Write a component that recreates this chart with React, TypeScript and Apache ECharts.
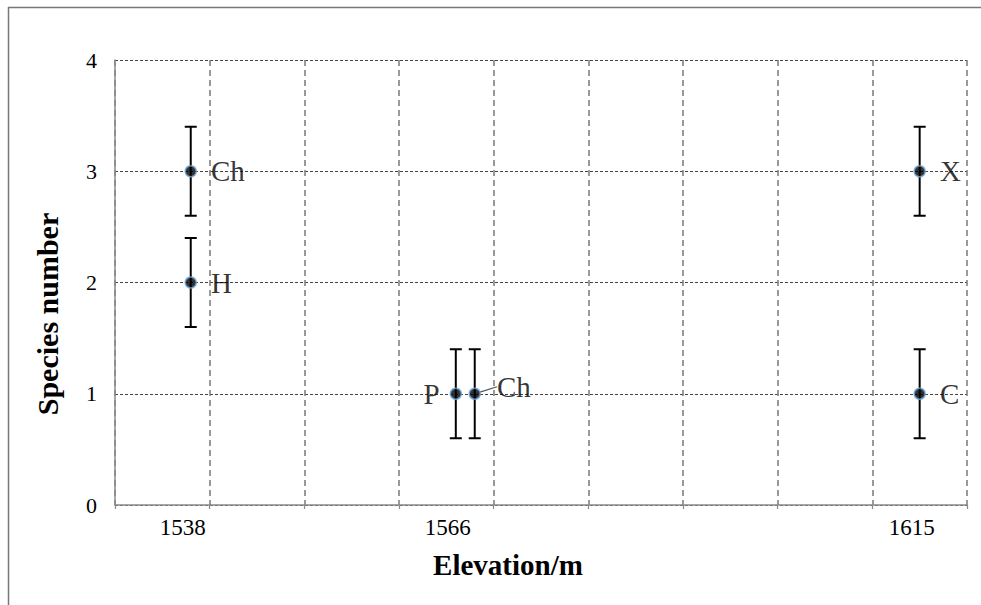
import React, { useEffect, useRef } from "react";
import * as echarts from "echarts";

const elevations = [1538, 1538, 1566, 1568, 1615, 1615];
const speciesCounts = [3, 2, 1, 1, 3, 1];
const errorValues = [0.4, 0.4, 0.4, 0.4, 0.4, 0.4];
const pointLabels = ["Ch", "H", "P", "Ch", "X", "C"];
const labelSides = ["right", "right", "left", "right", "right", "right"];
const xTickLabels = [1538, 1566, 1615];
const yTicks = [0, 1, 2, 3, 4];
const xTitle = "Elevation/m";
const yTitle = "Species number";

const SERIF = "'Liberation Serif', 'Times New Roman', serif";

export default function App() {
  const ref = useRef<HTMLDivElement>(null);
  useEffect(() => {
    if (!ref.current) return;
    const chart = echarts.init(ref.current, undefined, { renderer: "svg" });

    const scatterData = elevations.map((x, i) => ({
      value: [x, speciesCounts[i]],
      label: {
        show: true,
        formatter: pointLabels[i],
        position: labelSides[i],
        distance: labelSides[i] === "left" ? 10 : 14,
      },
      labelLine: { show: i === 3 },
    }));
    const errData = elevations.map((x, i) => [x, speciesCounts[i], errorValues[i]]);

    const option: any = {
      animation: false,
      backgroundColor: "#ffffff",
      grid: { left: 115, top: 60, right: 14, bottom: 100, containLabel: false },
      xAxis: {
        type: "value",
        min: 1530,
        max: 1620,
        interval: 10,
        axisLine: { show: true, lineStyle: { color: "#8a8a8a", width: 1.5 } },
        axisTick: { show: true, length: 4, lineStyle: { color: "#8a8a8a", width: 1.2 } },
        axisLabel: {
          customValues: xTickLabels,
          formatter: (v: number) => String(v),
          fontFamily: SERIF,
          fontSize: 23,
          color: "#000",
          margin: 11,
          padding: [0, 16, 0, 0],
        },
        splitLine: {
          show: true,
          lineStyle: { type: [6, 4], color: "#7a7a7a", width: 1.5 },
        },
      },
      yAxis: {
        type: "value",
        min: 0,
        max: 4,
        interval: 1,
        axisLine: { show: true, lineStyle: { color: "#8a8a8a", width: 1.5 } },
        axisTick: { show: false },
        axisLabel: {
          customValues: yTicks,
          formatter: (v: number) => String(v),
          fontFamily: SERIF,
          fontSize: 22,
          color: "#000",
          margin: 18,
        },
        splitLine: {
          show: true,
          lineStyle: { type: [3, 2], color: "#444", width: 1.2 },
        },
      },
      series: [
        {
          type: "custom",
          data: errData,
          z: 2,
          renderItem: (params: any, api: any) => {
            const x = api.value(0);
            const y = api.value(1);
            const e = api.value(2);
            const top = api.coord([x, y + e]);
            const bot = api.coord([x, y - e]);
            const half = 6;
            const st = { stroke: "#000", lineWidth: 2 };
            return {
              type: "group",
              children: [
                { type: "line", shape: { x1: top[0], y1: top[1], x2: bot[0], y2: bot[1] }, style: st },
                { type: "line", shape: { x1: top[0] - half, y1: top[1], x2: top[0] + half, y2: top[1] }, style: st },
                { type: "line", shape: { x1: bot[0] - half, y1: bot[1], x2: bot[0] + half, y2: bot[1] }, style: st },
              ],
            };
          },
        },
        {
          type: "scatter",
          z: 3,
          symbol: "circle",
          symbolSize: 11,
          itemStyle: { color: "#000", borderColor: "#6fa8dc", borderWidth: 1.5 },
          label: {
            fontFamily: SERIF,
            fontSize: 29,
            color: "#000",
          },
          labelLine: { lineStyle: { color: "#555", width: 1.2 } },
          labelLayout: (params: any) =>
            params.dataIndex === 3 ? { dx: 2, dy: -7 } : {},
          data: scatterData,
        },
      ],
      graphic: [
        {
          type: "line",
          shape: { x1: 8, y1: 7.5, x2: 981, y2: 7.5 },
          style: { stroke: "#777", lineWidth: 1.5 },
        },
        {
          type: "line",
          shape: { x1: 8.5, y1: 7, x2: 8.5, y2: 605 },
          style: { stroke: "#777", lineWidth: 1.5 },
        },
        {
          type: "text",
          x: 508,
          y: 565,
          style: {
            text: xTitle,
            fontFamily: SERIF,
            fontWeight: "bold",
            fontSize: 29,
            fill: "#000",
            align: "center",
            verticalAlign: "middle",
          },
        },
        {
          type: "text",
          x: 47,
          y: 314,
          rotation: Math.PI / 2,
          style: {
            text: yTitle,
            fontFamily: SERIF,
            fontWeight: "bold",
            fontSize: 30,
            fill: "#000",
            align: "center",
            verticalAlign: "middle",
          },
        },
      ],
    };
    chart.setOption(option);
    return () => chart.dispose();
  }, []);

  return (
    <div
      ref={ref}
      style={{ position: "fixed", left: 0, top: 0, width: 981, height: 605, background: "#fff" }}
    />
  );
}
